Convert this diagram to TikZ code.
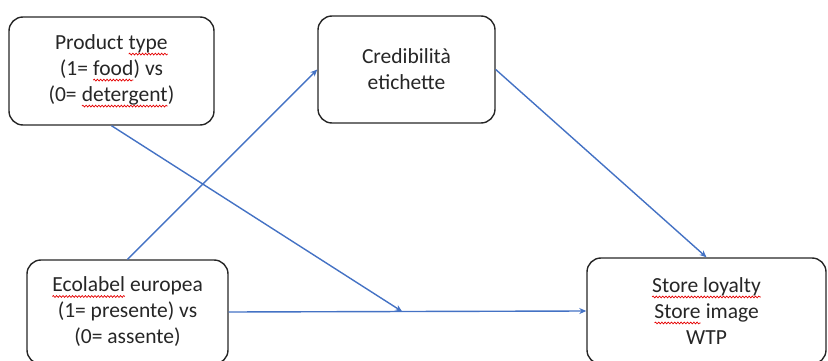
\documentclass[tikz,border=0pt]{standalone}
\usepackage{fontspec}
\setmainfont{Carlito}
\usetikzlibrary{calc,arrows.meta,decorations.pathmorphing}

% red wavy underline, as a spell checker marks a word
\newcommand\spellmark[1]{\tikz[baseline=(sw.base),x=1pt,y=1pt]{%
  \node[inner sep=0pt,outer sep=0pt,draw=none,anchor=base,
    minimum width=0pt,minimum height=0pt,shape=rectangle] (sw) {#1};
  \draw[red!90!black, line width=0.7pt, rounded corners=0pt, decorate,
    decoration={snake,amplitude=0.9pt,segment length=3.2pt}]
    ([yshift=-4.5pt]sw.base west) -- ([yshift=-4.5pt]sw.base east);}}

\tikzset{
  box/.style={draw=black!85, line width=1.4pt, rounded corners=14pt,
    align=center, inner sep=0pt, text=black!85,
    font=\fontsize{21.5}{26}\selectfont},
  link/.style={draw={rgb,255:red,68;green,114;blue,196}, line width=1.4pt,
    -{Stealth[length=7pt,width=6pt]}},
}

\begin{document}
\begin{tikzpicture}[x=1pt,y=-1pt]
  \useasboundingbox (0,0) rectangle (828,361);
  \begin{scope}
    \clip (0,0) rectangle (828,361);
    \node[box, minimum width=205pt, minimum height=108pt] (prod) at (111.5,71)
      {Product \spellmark{type}\\(1= \spellmark{food}) vs\\(0= \spellmark{detergent})};
    \node[box, minimum width=177pt, minimum height=107pt] (cred) at (406.5,69.5)
      {Credibilità\\etichette};
    \node[box, minimum width=201pt, minimum height=104pt] (eco) at (127.5,312)
      {\spellmark{Ecolabel} europea\\(1= presente) vs\\(0= assente)};
    \node[box, minimum width=239pt, minimum height=106pt] (store) at (706.5,311)
      {\spellmark{Store loyalty}\\\spellmark{Store} image\\WTP};
  \end{scope}

  \coordinate (join) at ($(eco.east)!0.485!(store.west)$);
  \draw[link] (eco.north) -- (cred.west);
  \draw[link] (cred.east) -- (store.north);
  \draw[link] (eco.east) -- (store.west);
  \draw[link] (prod.south) -- (join);
\end{tikzpicture}
\end{document}
